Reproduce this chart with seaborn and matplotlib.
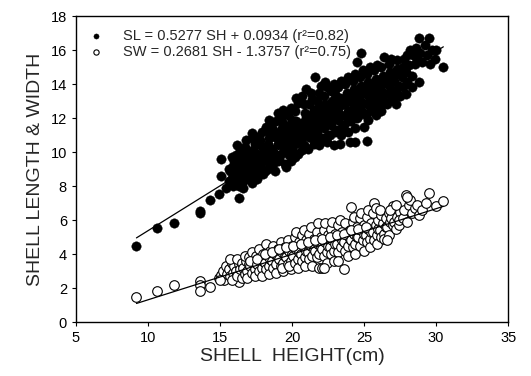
import numpy as np
import pandas as pd
import matplotlib
matplotlib.use("Agg")
import matplotlib.pyplot as plt
import seaborn as sns

# shell height vs shell length (filled dots)
sl_points = [
    (9.2, 4.5), (10.6, 5.55), (11.8, 5.85), (13.6, 6.4), (13.6, 6.55), (14.3, 7.15), (14.9, 7.55),
    (15.4, 7.9), (15.1, 8.6), (15.1, 9.6), (16.3, 7.3), (16.2, 10.4),
    (15.6, 8.3), (15.7, 8.9), (15.8, 8.5), (15.9, 9.2), (15.6, 9.0), (15.9, 8.0), (16.0, 8.7),
    (16.0, 9.5), (15.8, 9.7), (16.1, 8.3),
    (16.2, 8.9), (16.3, 9.3), (16.4, 8.6), (16.1, 9.8), (16.4, 9.9), (16.5, 8.2), (16.3, 8.0),
    (16.5, 9.6), (16.2, 9.1), (16.4, 10.2),
    (16.6, 8.8), (16.7, 9.4), (16.8, 8.4), (16.9, 9.9), (16.7, 10.3), (16.6, 7.9), (16.9, 9.0),
    (17.0, 8.6), (16.8, 10.7), (17.0, 9.6), (16.7, 9.1),
    (17.1, 9.2), (17.2, 8.2), (17.3, 10.1), (17.4, 9.5), (17.2, 10.8), (17.5, 8.9), (17.3, 9.8),
    (17.1, 8.7), (17.4, 10.5), (17.5, 9.3), (17.2, 11.1), (17.4, 8.5),
    (17.6, 9.9), (17.7, 8.8), (17.8, 10.4), (17.9, 9.4), (17.6, 10.9), (17.8, 9.1), (18.0, 10.0),
    (17.7, 9.6), (17.9, 11.2), (18.0, 8.7), (17.6, 8.4), (17.8, 10.7),
    (18.1, 9.6), (18.2, 10.3), (18.3, 9.0), (18.4, 10.8), (18.2, 11.5), (18.5, 9.9), (18.1, 8.9),
    (18.3, 10.5), (18.4, 9.4), (18.5, 11.1), (18.2, 9.8), (18.4, 11.9),
    (18.6, 10.2), (18.7, 9.3), (18.8, 10.9), (18.9, 9.8), (18.6, 11.4), (18.8, 8.9), (19.0, 10.5),
    (18.7, 10.0), (18.9, 11.8), (19.0, 9.5), (18.6, 9.6), (18.8, 11.2), (19.0, 12.3),
    (19.1, 10.8), (19.2, 9.9), (19.3, 11.4), (19.4, 10.3), (19.2, 12.0), (19.5, 9.3), (19.3, 10.6),
    (19.1, 9.6), (19.4, 11.7), (19.5, 10.9), (19.2, 11.1), (19.6, 9.1), (19.4, 12.5),
    (19.6, 10.4), (19.7, 11.0), (19.8, 9.8), (19.9, 11.6), (19.7, 12.2), (20.0, 10.2), (19.8, 10.7),
    (19.6, 11.3), (19.9, 9.5), (20.0, 11.9), (19.7, 10.0), (19.9, 12.6), (20.0, 10.9),
    (20.1, 11.2), (20.2, 10.5), (20.3, 11.8), (20.4, 9.9), (20.2, 12.4), (20.5, 10.8), (20.3, 11.5),
    (20.1, 10.0), (20.4, 12.9), (20.5, 11.3), (20.2, 9.7), (20.4, 10.6), (20.3, 13.2),
    (20.6, 11.0), (20.7, 11.7), (20.8, 10.4), (20.9, 12.3), (20.7, 10.1), (21.0, 11.4), (20.8, 12.8),
    (20.6, 10.7), (20.9, 11.1), (21.0, 12.0), (20.7, 13.3), (20.9, 10.3), (21.0, 13.7),
    (21.1, 11.6), (21.2, 10.9), (21.3, 12.2), (21.4, 11.3), (21.2, 12.8), (21.5, 10.5), (21.3, 11.8),
    (21.1, 10.2), (21.4, 13.1), (21.5, 12.5), (21.2, 11.0), (21.4, 10.8), (21.6, 14.4), (21.3, 13.5),
    (21.6, 11.9), (21.7, 11.2), (21.8, 12.6), (21.9, 11.5), (21.7, 13.0), (22.0, 10.7), (21.8, 12.1),
    (21.6, 10.9), (21.9, 13.5), (22.0, 12.4), (21.7, 11.6), (21.9, 10.4), (22.0, 13.9),
    (22.1, 12.0), (22.2, 11.4), (22.3, 12.8), (22.4, 11.8), (22.2, 13.3), (22.5, 11.0), (22.3, 12.4),
    (22.1, 10.8), (22.4, 13.8), (22.5, 12.6), (22.2, 11.9), (22.4, 10.6), (22.3, 14.1),
    (22.6, 12.3), (22.7, 11.6), (22.8, 13.0), (22.9, 12.0), (22.7, 13.6), (23.0, 11.2), (22.8, 12.6),
    (22.6, 11.0), (22.9, 14.0), (23.0, 12.9), (22.7, 12.2), (22.9, 10.4), (23.0, 13.4),
    (23.1, 12.5), (23.2, 11.9), (23.3, 13.2), (23.4, 12.2), (23.2, 13.8), (23.5, 11.5), (23.3, 12.9),
    (23.1, 11.3), (23.4, 14.2), (23.5, 13.1), (23.2, 12.6), (23.45, 14.1), (23.4, 11.0), (23.3, 10.5),
    (23.6, 12.8), (23.7, 12.1), (23.8, 13.5), (23.9, 12.4), (23.7, 14.0), (24.0, 11.8), (23.8, 13.1),
    (23.6, 11.6), (23.9, 14.4), (24.0, 13.3), (23.7, 12.9), (24.0, 10.6), (23.9, 11.2),
    (24.1, 13.0), (24.2, 12.3), (24.3, 13.7), (24.4, 12.6), (24.2, 14.2), (24.5, 12.0), (24.3, 13.3),
    (24.1, 11.9), (24.4, 14.6), (24.5, 13.6), (24.2, 12.8), (24.4, 10.6), (24.5, 15.3), (24.4, 11.4),
    (24.6, 13.2), (24.7, 12.6), (24.8, 13.9), (24.9, 12.9), (24.7, 14.4), (25.0, 12.3), (24.8, 13.5),
    (24.6, 12.1), (24.9, 14.8), (25.0, 13.8), (24.8, 15.8), (24.7, 13.0), (25.0, 11.5), (25.2, 10.65),
    (25.1, 13.4), (25.2, 12.8), (25.3, 14.1), (25.4, 13.1), (25.2, 14.6), (25.5, 12.5), (25.3, 13.7),
    (25.1, 12.2), (25.4, 15.0), (25.5, 13.9), (25.3, 11.9), (25.4, 12.9),
    (25.6, 13.6), (25.7, 13.0), (25.8, 14.3), (25.9, 13.3), (25.7, 14.8), (26.0, 12.7), (25.8, 13.9),
    (25.6, 12.4), (25.9, 15.1), (26.0, 14.1), (25.8, 12.2), (26.0, 13.5),
    (26.1, 13.8), (26.2, 13.2), (26.3, 14.5), (26.4, 13.5), (26.2, 15.0), (26.5, 12.9), (26.3, 14.1),
    (26.1, 12.6), (26.4, 15.6), (26.5, 14.3), (26.2, 12.4), (26.4, 13.0),
    (26.6, 14.0), (26.7, 13.4), (26.8, 14.7), (26.9, 13.7), (26.7, 15.2), (27.0, 13.1), (26.8, 14.3),
    (26.6, 12.8), (26.9, 15.5), (27.0, 14.5),
    (27.1, 14.2), (27.2, 13.6), (27.3, 14.9), (27.4, 13.9), (27.2, 12.8), (27.5, 13.3), (27.3, 15.4),
    (27.1, 14.6), (27.5, 14.8),
    (27.6, 14.4), (27.7, 15.0), (27.9, 13.4), (27.8, 15.5), (28.0, 14.1), (27.7, 13.8), (28.0, 15.7),
    (27.9, 14.7),
    (28.1, 15.1), (28.3, 14.5), (28.4, 15.7), (28.2, 16.0), (28.5, 15.2), (28.3, 13.8),
    (28.6, 16.1), (28.8, 14.1), (28.7, 15.5), (28.9, 15.8), (28.8, 16.7), (29.0, 15.3),
    (29.2, 16.3), (29.5, 16.7), (29.4, 15.7), (29.7, 16.0), (29.6, 15.2), (30.0, 16.0), (30.5, 15.0),
    (29.9, 15.5),
]

# shell height vs shell width (open circles)
sw_points = [
    (9.2, 1.45), (10.6, 1.85), (11.8, 2.15), (13.6, 2.4), (13.6, 2.2), (13.6, 1.85), (14.3, 2.05),
    (16.3, 2.35),
    (14.9, 2.6), (15.1, 2.75), (15.2, 3.0), (15.3, 2.5), (15.4, 3.3), (15.5, 2.8), (15.0, 2.45),
    (15.6, 3.1), (15.7, 2.7), (15.8, 3.5), (15.9, 2.9), (16.0, 3.3), (15.8, 2.5), (15.7, 3.7),
    (16.1, 3.0), (16.2, 2.7), (16.3, 3.4), (16.4, 3.1), (16.5, 2.6), (16.2, 3.7), (16.5, 3.5),
    (16.6, 3.2), (16.7, 2.8), (16.8, 3.6), (16.9, 3.0), (17.0, 3.4), (16.7, 3.9), (16.9, 2.6), (17.0, 3.8),
    (17.1, 3.3), (17.2, 2.9), (17.3, 3.7), (17.4, 3.1), (17.5, 3.5), (17.2, 4.1), (17.4, 2.7), (17.5, 3.9),
    (17.1, 3.6),
    (17.6, 3.4), (17.7, 3.0), (17.8, 3.8), (17.9, 3.2), (18.0, 3.6), (17.7, 4.3), (17.9, 2.7), (18.0, 4.0),
    (17.6, 3.7),
    (18.1, 3.5), (18.2, 3.1), (18.3, 3.9), (18.4, 3.3), (18.5, 3.7), (18.2, 4.6), (18.4, 2.8), (18.5, 4.2),
    (18.1, 4.0),
    (18.6, 3.6), (18.7, 3.2), (18.8, 4.0), (18.9, 3.4), (19.0, 3.8), (18.7, 4.5), (18.9, 2.9), (19.0, 4.3),
    (18.6, 4.1),
    (19.1, 3.7), (19.2, 3.3), (19.3, 4.1), (19.4, 3.5), (19.5, 3.9), (19.2, 4.7), (19.4, 3.0), (19.5, 4.4),
    (19.1, 4.3), (19.3, 3.2),
    (19.6, 3.8), (19.7, 3.4), (19.8, 4.2), (19.9, 3.6), (20.0, 4.0), (19.7, 4.8), (19.9, 3.1), (20.0, 4.5),
    (19.6, 4.4), (19.8, 3.3),
    (20.1, 3.9), (20.2, 3.5), (20.3, 4.3), (20.4, 3.7), (20.5, 4.1), (20.2, 5.0), (20.4, 3.2), (20.5, 4.7),
    (20.1, 4.5), (20.3, 5.3),
    (20.6, 4.0), (20.7, 3.6), (20.8, 4.4), (20.9, 3.8), (21.0, 4.2), (20.7, 5.1), (20.9, 3.3), (21.0, 4.8),
    (20.6, 4.6), (20.8, 5.4),
    (21.1, 4.1), (21.2, 3.7), (21.3, 4.5), (21.4, 3.9), (21.5, 4.3), (21.2, 5.2), (21.4, 3.3), (21.5, 4.9),
    (21.1, 4.7), (21.3, 5.6),
    (21.6, 4.2), (21.7, 3.8), (21.8, 4.6), (21.9, 4.0), (22.0, 4.4), (21.7, 5.3), (21.9, 3.2), (22.0, 5.0),
    (21.6, 4.8), (21.8, 5.8), (22.1, 3.2),
    (22.1, 4.3), (22.2, 3.9), (22.3, 4.7), (22.4, 4.1), (22.5, 4.5), (22.2, 5.4), (22.4, 3.5), (22.5, 5.1),
    (22.1, 4.9), (22.3, 5.8), (22.2, 3.2),
    (22.6, 4.4), (22.7, 4.0), (22.8, 4.8), (22.9, 4.2), (23.0, 4.6), (22.7, 5.5), (22.9, 3.6), (23.0, 5.2),
    (22.6, 5.0), (22.8, 5.9),
    (23.1, 4.6), (23.2, 4.1), (23.3, 5.0), (23.4, 4.4), (23.5, 4.8), (23.2, 5.7), (23.2, 3.6), (23.5, 5.3),
    (23.1, 5.1), (23.3, 6.0), (23.6, 3.1),
    (23.6, 4.7), (23.7, 4.2), (23.8, 5.1), (23.9, 4.5), (24.0, 4.9), (23.7, 5.8), (23.9, 3.9), (24.0, 5.4),
    (23.6, 5.2), (24.1, 6.75),
    (24.1, 4.8), (24.2, 4.4), (24.3, 5.2), (24.4, 4.6), (24.5, 5.0), (24.2, 5.9), (24.4, 4.0), (24.5, 5.6),
    (24.1, 5.4), (24.3, 6.2),
    (24.6, 5.0), (24.7, 4.5), (24.8, 5.4), (24.9, 4.8), (25.0, 5.2), (24.7, 6.1), (25.0, 4.2), (25.0, 5.7),
    (24.6, 5.5), (24.8, 6.4),
    (25.1, 5.1), (25.2, 4.7), (25.3, 5.5), (25.4, 4.9), (25.5, 5.3), (25.2, 6.2), (25.4, 4.4), (25.5, 5.8),
    (25.1, 5.6), (25.3, 6.6),
    (25.6, 5.3), (25.7, 4.8), (25.8, 5.7), (25.9, 5.1), (26.0, 5.5), (25.7, 7.0), (25.9, 4.6), (26.0, 6.0),
    (25.6, 6.4), (25.8, 6.7),
    (26.1, 5.4), (26.2, 5.0), (26.3, 5.8), (26.4, 5.2), (26.5, 5.6), (26.2, 6.3), (26.4, 4.9), (26.5, 6.1),
    (26.1, 6.6),
    (26.6, 5.6), (26.7, 5.1), (26.8, 5.9), (26.6, 4.85), (27.0, 5.7), (26.7, 6.4), (26.9, 6.1), (27.0, 6.8),
    (26.8, 6.6),
    (27.1, 5.9), (27.2, 5.5), (27.3, 6.2), (27.4, 5.7), (27.5, 6.5), (27.2, 6.9), (27.4, 6.0),
    (27.7, 6.1), (27.9, 7.45), (27.8, 6.6), (28.0, 5.9), (28.1, 6.9), (28.3, 6.4), (28.5, 6.7), (28.2, 7.2),
    (27.95, 7.35),
    (28.8, 6.3), (28.7, 6.9), (29.0, 6.6), (29.3, 7.0), (29.5, 7.6), (30.0, 6.8), (30.5, 7.1),
]

# regression coefficients printed in the legend
sl_fit = (0.5277, 0.0934, 0.82)
sw_fit = (0.2681, -1.3757, 0.75)

df_l = pd.DataFrame(sl_points, columns=["SH", "SL"])
df_w = pd.DataFrame(sw_points, columns=["SH", "SW"])

sns.set_style("ticks")
plt.rcParams["font.family"] = ["Liberation Sans", "DejaVu Sans"]

fig = plt.figure(figsize=(5.31, 3.76), dpi=100)
ax = fig.add_axes([0.143, 0.1436, 0.814, 0.8138])

lab_l = "SL = %.4f SH + %.4f (r²=%.2f)" % sl_fit
lab_w = "SW = %.4f SH - %.4f (r²=%.2f)" % (sw_fit[0], -sw_fit[1], sw_fit[2])

sns.scatterplot(data=df_l, x="SH", y="SL", ax=ax, color="black", s=46,
                edgecolor="black", linewidth=0.3, label=lab_l, zorder=2)
sns.scatterplot(data=df_w, x="SH", y="SW", ax=ax, facecolor="white", s=48,
                edgecolor="black", linewidth=0.8, label=lab_w, zorder=2)

# fitted lines over the range of the data
xr = np.array([df_l["SH"].min(), df_l["SH"].max()])
sns.lineplot(x=xr, y=sl_fit[0] * xr + sl_fit[1], ax=ax, color="black", lw=0.9,
             label="_nolegend_", zorder=3)
xr2 = np.array([df_w["SH"].min(), df_w["SH"].max()])
sns.lineplot(x=xr2, y=sw_fit[0] * xr2 + sw_fit[1], ax=ax, color="black", lw=0.9,
             label="_nolegend_", zorder=3)

ax.set_xlim(5, 35)
ax.set_ylim(0, 18)
ax.set_xticks(range(5, 36, 5))
ax.set_yticks(range(0, 19, 2))
ax.tick_params(direction="out", length=3, width=0.8, labelsize=10.5, colors="black")
for sp in ax.spines.values():
    sp.set_linewidth(1.0)
    sp.set_color("black")

ax.set_xlabel("SHELL  HEIGHT(cm)", fontsize=14, labelpad=2)
ax.set_ylabel("SHELL LENGTH & WIDTH", fontsize=14, labelpad=5)

ax.legend(loc="upper left", frameon=False, fontsize=10.5, handlelength=1.0,
          handletextpad=1.3, borderaxespad=0.5, labelspacing=0.1, markerscale=0.55)

fig.savefig("out.png", dpi=100)
